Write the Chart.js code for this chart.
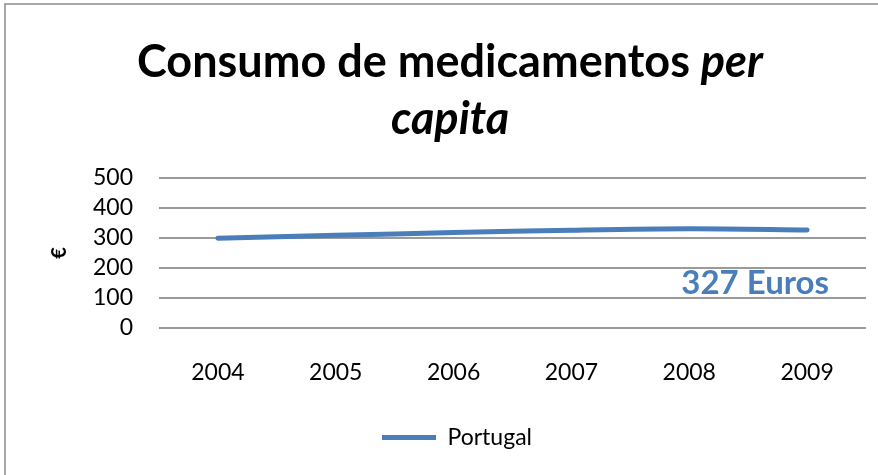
<!DOCTYPE html>
<html>
<head>
<meta charset="utf-8">
<script src="https://cdn.jsdelivr.net/npm/chart.js@4/dist/chart.umd.min.js"></script>
<style>
  html, body { margin: 0; padding: 0; background: #fff; }
  #wrap { width: 878px; height: 475px; }
</style>
</head>
<body>
<div id="wrap"><canvas id="consumoChart" width="878" height="475"></canvas></div>
<script>
const years = ['2004', '2005', '2006', '2007', '2008', '2009'];
const portugal = [299, 309, 318, 326, 331, 327];
const yTicks = [0, 100, 200, 300, 400, 500];
const lastLabel = '327 Euros';

const blue = '#4a7ebb';

// title (mixed bold / italic), frame and the "327 Euros" note
const extras = {
    id: 'extras',
    beforeDraw(chart) {
        const c = chart.ctx;
        c.save();
        c.fillStyle = '#fff';
        c.fillRect(0, 0, chart.width, chart.height);
        c.strokeStyle = '#8a8a8a';
        c.lineWidth = 1.5;
        c.strokeRect(5, 4, chart.width + 20, chart.height + 20);
        c.restore();
    },
    afterDraw(chart) {
        const c = chart.ctx;
        const cx = chart.width / 2 + 11;
        c.save();
        c.fillStyle = '#000';
        c.textBaseline = 'alphabetic';
        const a = 'Consumo de medicamentos ';
        const b = 'per';
        c.font = 'bold 45px Lato';
        const wa = c.measureText(a).width;
        c.font = 'italic bold 45px Lato';
        const wb = c.measureText(b).width;
        let x = cx - (wa + wb) / 2;
        c.font = 'bold 45px Lato';
        c.fillText(a, x, 77);
        c.font = 'italic bold 45px Lato';
        c.fillText(b, x + wa, 77);
        c.textAlign = 'center';
        c.fillText('capita', cx, 134);

        // note under the last point
        const xs = chart.scales.x, ys = chart.scales.y;
        c.font = 'bold 33px Lato';
        c.fillStyle = blue;
        c.textAlign = 'right';
        c.fillText(lastLabel, xs.getPixelForValue(years.length - 1) + 22, ys.getPixelForValue(115));
        c.restore();
    }
};

new Chart(document.getElementById('consumoChart'), {
    type: 'line',
    data: {
        labels: years,
        datasets: [{
            label: 'Portugal',
            data: portugal,
            borderColor: blue,
            backgroundColor: blue,
            borderWidth: 5,
            borderCapStyle: 'round',
            borderJoinStyle: 'round',
            pointRadius: 0,
            tension: 0.3,
            fill: false
        }]
    },
    options: {
        responsive: false,
        animation: false,
        layout: { padding: { top: 178, left: 48, right: 12, bottom: 16 } },
        plugins: {
            title: { display: false },
            tooltip: { enabled: false },
            legend: {
                position: 'bottom',
                labels: {
                    usePointStyle: true,
                    pointStyle: 'line',
                    pointStyleWidth: 54,
                    color: '#000',
                    font: { family: 'Lato', size: 23 },
                    padding: 10
                }
            }
        },
        scales: {
            x: {
                offset: true,
                grid: { display: false, drawTicks: false },
                border: { display: false },
                ticks: { color: '#000', font: { family: 'Lato', size: 23 }, padding: 31 },
                afterFit(s) { s.height = 88; }
            },
            y: {
                min: 0,
                max: 500,
                afterBuildTicks(s) { s.ticks = yTicks.map(v => ({ value: v })); },
                grid: { color: '#9a9a9a', lineWidth: 2, drawTicks: false },
                border: { display: false },
                ticks: { color: '#000', font: { family: 'Lato', size: 23 }, padding: 26, autoSkip: false },
                title: { display: true, text: '€', color: '#000', font: { family: 'Lato', size: 20, weight: 'bold' }, padding: 0 },
                afterFit(s) { s.width = 111; }
            }
        }
    },
    plugins: [extras]
});
</script>
</body>
</html>
